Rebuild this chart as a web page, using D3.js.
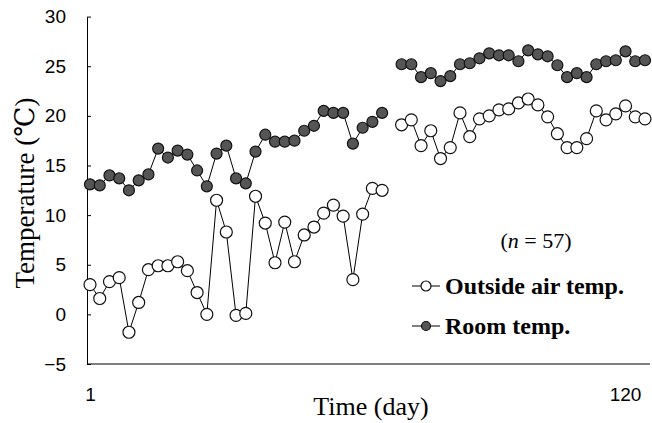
<!DOCTYPE html>
<html lang="en">
<head>
<meta charset="UTF-8">
<title>Temperature</title>
<style>
  body { margin: 0; background: #fff; }
  svg { display: block; font-family: "Liberation Serif", "DejaVu Serif", serif; }
  .axis text { font-size: 19px; fill: #000; }
  .axis path, .axis line { stroke: #000; stroke-width: 1px; }
  .line { fill: none; stroke: #000; stroke-width: 1px; }
</style>
</head>
<body>
<script src="https://d3js.org/d3.v7.min.js"></script>
<script>
// one slot per measurement, null = the gap between the two periods
const outsideTemp = [
  3.0, 1.6, 3.3, 3.7, -1.8, 1.2, 4.5, 4.9, 4.9, 5.3, 4.4, 2.2, 0.0, 11.5, 8.3, -0.1,
  0.1, 11.9, 9.2, 5.2, 9.3, 5.3, 8.0, 8.8, 10.2, 11.0, 9.9, 3.5, 10.1, 12.7, 12.5,
  null,
  19.1, 19.6, 17.0, 18.5, 15.7, 16.8, 20.3, 17.9, 19.7, 20.0, 20.6, 20.7, 21.3,
  21.7, 21.1, 19.9, 18.2, 16.8, 16.8, 17.7, 20.5, 19.6, 20.2, 21.0, 19.9, 19.7
];
const roomTemp = [
  13.1, 13.0, 14.0, 13.7, 12.5, 13.5, 14.1, 16.7, 15.8, 16.5, 16.1, 14.5, 12.9, 16.2,
  17.0, 13.7, 13.2, 16.4, 18.1, 17.4, 17.4, 17.5, 18.5, 19.0, 20.5, 20.3, 20.3, 17.2,
  18.8, 19.4, 20.3,
  null,
  25.2, 25.2, 23.9, 24.3, 23.5, 24.0, 25.2, 25.3, 25.8, 26.3, 26.1, 26.1, 25.5,
  26.6, 26.2, 26.0, 25.1, 23.9, 24.3, 23.9, 25.2, 25.5, 25.6, 26.5, 25.5, 25.6
];
const yTicks = [-5, 0, 5, 10, 15, 20, 25, 30];
const dayTicks = [1, 120];
const sampleCount = 57;

const width = 652, height = 423;
const svg = d3.select("body").append("svg")
  .attr("width", width)
  .attr("height", height);

const x = d3.scaleLinear().domain([0, outsideTemp.length - 1]).range([90, 645]);
const day = d3.scaleLinear().domain([1, 120]).range([90, 625]);
const y = d3.scaleLinear().domain([-5, 30]).range([364, 16.6]);

const plotLeft = 87, plotRight = 650;

// y axis, ticks pointing inward
svg.append("g")
  .attr("class", "axis")
  .attr("transform", `translate(${plotLeft},0)`)
  .call(d3.axisLeft(y).tickValues(yTicks).tickSizeInner(-4).tickSizeOuter(0).tickPadding(21)
    .tickFormat(d => d < 0 ? "\u2212" + Math.abs(d) : d));

// x axis: plain baseline with the first and last day
svg.append("line")
  .attr("x1", plotLeft).attr("x2", plotRight)
  .attr("y1", y(-5)).attr("y2", y(-5))
  .attr("stroke", "#000");

svg.append("g")
  .attr("class", "axis")
  .attr("transform", `translate(0,${y(-5)})`)
  .call(d3.axisBottom(day).tickValues(dayTicks).tickSize(0).tickPadding(24).tickFormat(d3.format("d")))
  .call(g => g.select(".domain").remove());

// axis titles
svg.append("text")
  .attr("transform", `translate(34,193) rotate(-90)`)
  .attr("text-anchor", "middle")
  .style("font-size", "27px")
  .text("Temperature (\u2103)");

svg.append("text")
  .attr("x", 371).attr("y", 415)
  .attr("text-anchor", "middle")
  .style("font-size", "26px")
  .text("Time (day)");

const line = d3.line()
  .defined(d => d != null)
  .x((d, i) => x(i))
  .y(d => y(d));

function drawSeries(values, fill, r) {
  svg.append("path").datum(values).attr("class", "line").attr("d", line);
  svg.append("g")
    .selectAll("circle")
    .data(values.map((v, i) => ({ v, i })).filter(d => d.v != null))
    .join("circle")
    .attr("cx", d => x(d.i))
    .attr("cy", d => y(d.v))
    .attr("r", r)
    .attr("fill", fill)
    .attr("stroke", "#111")
    .attr("stroke-width", 1.2);
}

drawSeries(outsideTemp, "#fff", 6);
drawSeries(roomTemp, "#555", 5.5);

// sample size note
const note = svg.append("text")
  .attr("x", 536).attr("y", 248)
  .attr("text-anchor", "middle")
  .style("font-size", "22px");
note.append("tspan").text("(");
note.append("tspan").style("font-style", "italic").text("n");
note.append("tspan").text(" = " + sampleCount + ")");

// legend
const legend = [
  { label: "Outside air temp.", fill: "#fff", r: 5 },
  { label: "Room temp.", fill: "#555", r: 4.5 }
];
const lg = svg.append("g").selectAll("g")
  .data(legend)
  .join("g")
  .attr("transform", (d, i) => `translate(412,${286 + i * 40})`);
lg.append("line").attr("x1", 0).attr("x2", 28).attr("stroke", "#000");
lg.append("circle").attr("cx", 14).attr("r", d => d.r)
  .attr("fill", d => d.fill).attr("stroke", "#111").attr("stroke-width", 1.2);
lg.append("text")
  .attr("x", 33).attr("dy", "0.35em")
  .style("font-size", "24px")
  .style("font-weight", "bold")
  .text(d => d.label);
</script>
</body>
</html>
